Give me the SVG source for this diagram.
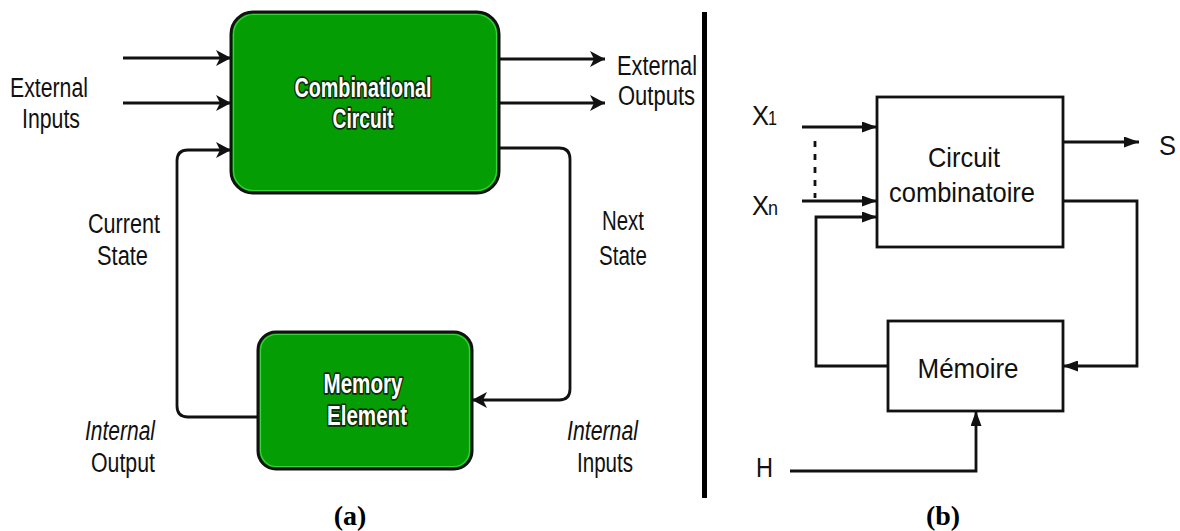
<svg xmlns="http://www.w3.org/2000/svg" width="1180" height="531" viewBox="0 0 1180 531">
<defs>
<style>
.t{font-family:"Liberation Sans",Arial,sans-serif;font-size:27px;fill:#111}
.r{font-size:28px}
.it{font-style:italic}
.w{font-family:"Liberation Sans",Arial,sans-serif;font-weight:bold;font-size:27px;fill:#fff;stroke:#0b2a0b;stroke-width:3.5px;paint-order:stroke;stroke-linejoin:round}
.cap{font-family:"Liberation Serif","Times New Roman",serif;font-weight:bold;font-size:28px;fill:#000}
.ln{fill:none;stroke:#111;stroke-width:2.8}
.lnb{fill:none;stroke:#111;stroke-width:2.8}
.box{fill:#fff;stroke:#111;stroke-width:2.8}
.g{fill:#049e04;stroke:#111;stroke-width:3}
.gi{fill:none;stroke:#3bd23b;stroke-width:1.2}
</style>
<marker id="st" viewBox="0 0 15 16" markerWidth="15" markerHeight="16" refX="15" refY="8" orient="auto" markerUnits="userSpaceOnUse">
<path d="M0,0 L15,8 L0,16 L4,8 z" fill="#111"/>
</marker>
<marker id="tr" viewBox="0 0 15 11" markerWidth="15" markerHeight="11" refX="15" refY="5.5" orient="auto" markerUnits="userSpaceOnUse">
<path d="M0,0 L15,5.5 L0,11 z" fill="#111"/>
</marker>
</defs>

<g id="connectors">
<line class="ln" x1="123" y1="58" x2="231" y2="58" marker-end="url(#st)"/>
<line class="ln" x1="123" y1="103" x2="231" y2="103" marker-end="url(#st)"/>
<path class="ln" d="M258,417 L188,417 Q177,417 177,406 L177,161 Q177,150 188,150 L231,150" marker-end="url(#st)"/>
<line class="ln" x1="499" y1="59" x2="605" y2="59" marker-end="url(#st)"/>
<line class="ln" x1="499" y1="103" x2="605" y2="103" marker-end="url(#st)"/>
<path class="ln" d="M499,148 L559,148 Q570,148 570,159 L570,389 Q570,400 559,400 L472,400" marker-end="url(#st)"/>
<line class="lnb" x1="802" y1="127" x2="877" y2="127" marker-end="url(#tr)"/>
<line class="lnb" x1="815" y1="141" x2="815" y2="198" stroke-dasharray="6,7"/>
<line class="lnb" x1="802" y1="201" x2="877" y2="201" marker-end="url(#tr)"/>
<path class="lnb" d="M888,366 L816,366 L816,217 L877,217" marker-end="url(#tr)"/>
<line class="lnb" x1="1063" y1="142" x2="1139" y2="142" marker-end="url(#tr)"/>
<path class="lnb" d="M1063,201 L1137,201 L1137,366 L1063,366" marker-end="url(#tr)"/>
<path class="lnb" d="M790,471 L976,471 L976,411" marker-end="url(#tr)"/>
</g>

<rect id="divider" x="702" y="12" width="5" height="486" fill="#000"/>

<g id="comb">
<rect class="g" x="231" y="12" width="268" height="181" rx="22"/>
<rect class="gi" x="233.5" y="14.5" width="263" height="176" rx="20"/>
<text class="w" x="363" y="97" text-anchor="middle" textLength="137" lengthAdjust="spacingAndGlyphs">Combinational</text>
<text class="w" x="363" y="128" text-anchor="middle" textLength="61" lengthAdjust="spacingAndGlyphs">Circuit</text>
</g>

<g id="memory">
<rect class="g" x="258" y="332" width="214" height="137" rx="18"/>
<rect class="gi" x="260.5" y="334.5" width="209" height="132" rx="16"/>
<text class="w" x="363" y="393" text-anchor="middle" textLength="79" lengthAdjust="spacingAndGlyphs">Memory</text>
<text class="w" x="367" y="425" text-anchor="middle" textLength="80" lengthAdjust="spacingAndGlyphs">Element</text>
</g>

<g id="labels-a">
<text class="t" x="10" y="97" textLength="78" lengthAdjust="spacingAndGlyphs">External</text>
<text class="t" x="22" y="128" textLength="58" lengthAdjust="spacingAndGlyphs">Inputs</text>
<text class="t" x="88" y="233" textLength="72" lengthAdjust="spacingAndGlyphs">Current</text>
<text class="t" x="97" y="265" textLength="51" lengthAdjust="spacingAndGlyphs">State</text>
<text class="t" x="617" y="75" textLength="80" lengthAdjust="spacingAndGlyphs">External</text>
<text class="t" x="618" y="105" textLength="77" lengthAdjust="spacingAndGlyphs">Outputs</text>
<text class="t" x="602" y="230" textLength="42" lengthAdjust="spacingAndGlyphs">Next</text>
<text class="t" x="599" y="265" textLength="48" lengthAdjust="spacingAndGlyphs">State</text>
<text class="t it" x="85" y="440" textLength="70" lengthAdjust="spacingAndGlyphs">Internal</text>
<text class="t" x="91" y="472" textLength="64" lengthAdjust="spacingAndGlyphs">Output</text>
<text class="t it" x="567" y="440" textLength="71" lengthAdjust="spacingAndGlyphs">Internal</text>
<text class="t" x="577" y="472" textLength="56" lengthAdjust="spacingAndGlyphs">Inputs</text>
<text class="cap" x="350" y="525" text-anchor="middle">(a)</text>
</g>

<g id="circuit">
<rect class="box" x="877" y="97" width="186" height="150"/>
<text class="t r" x="964" y="167" text-anchor="middle" textLength="72" lengthAdjust="spacingAndGlyphs">Circuit</text>
<text class="t r" x="962" y="202" text-anchor="middle" textLength="146" lengthAdjust="spacingAndGlyphs">combinatoire</text>
</g>

<g id="memoire">
<rect class="box" x="888" y="321" width="175" height="90"/>
<text class="t r" x="968" y="378" text-anchor="middle" textLength="101" lengthAdjust="spacingAndGlyphs">Mémoire</text>
</g>

<g id="labels-b">
<text class="t" x="752" y="125" textLength="17" lengthAdjust="spacingAndGlyphs">X</text>
<text class="t" x="768" y="125" style="font-size:20px" textLength="9" lengthAdjust="spacingAndGlyphs">1</text>
<text class="t" x="752" y="215" textLength="17" lengthAdjust="spacingAndGlyphs">X</text>
<text class="t" x="768" y="215" style="font-size:20px" textLength="10" lengthAdjust="spacingAndGlyphs">n</text>
<text class="t" x="1159" y="155" textLength="17" lengthAdjust="spacingAndGlyphs">S</text>
<text class="t" x="756" y="477" textLength="17" lengthAdjust="spacingAndGlyphs">H</text>
<text class="cap" x="943" y="525" text-anchor="middle">(b)</text>
</g>
</svg>
